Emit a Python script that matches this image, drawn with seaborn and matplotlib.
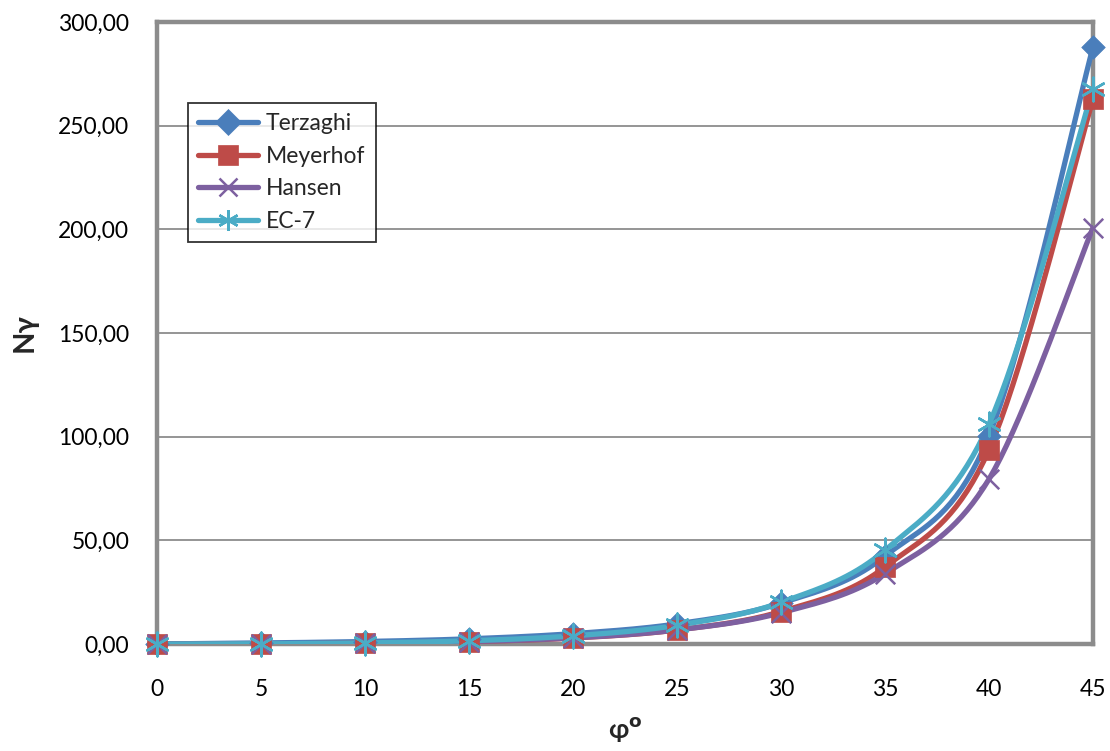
import matplotlib
matplotlib.use("Agg")
import matplotlib.pyplot as plt
import matplotlib.ticker as mticker
from matplotlib.lines import Line2D
import numpy as np
import pandas as pd
import seaborn as sns

# data
phi = [0, 5, 10, 15, 20, 25, 30, 35, 40, 45]
terzaghi = [0.0, 0.5, 1.2, 2.5, 5.0, 9.7, 19.7, 42.4, 100.4, 287.9]
meyerhof = [0.0, 0.07, 0.37, 1.13, 2.87, 6.77, 15.67, 37.15, 93.69, 262.74]
hansen = [0.0, 0.07, 0.39, 1.18, 2.95, 6.76, 15.07, 33.92, 79.54, 200.81]
ec7 = [0.0, 0.1, 0.52, 1.58, 3.93, 9.01, 20.09, 45.23, 106.05, 267.75]

names = ["Terzaghi", "Meyerhof", "Hansen", "EC-7"]
colors = ["#4a7ebb", "#be4b48", "#7d60a0", "#4bacc6"]
markers = ["D", "s", "x", (6, 2, 0)]
msizes = [12, 15, 14, 17]
series = [terzaghi, meyerhof, hansen, ec7]


def smooth(x, y, n=20):
    # Excel-style smoothed line (bezier between points)
    p = np.column_stack([np.asarray(x, float), np.asarray(y, float)])
    pts = [p[0]]
    for i in range(len(p) - 1):
        p0 = p[i - 1] if i > 0 else p[i]
        p3 = p[i + 2] if i + 2 < len(p) else p[i + 1]
        c1 = p[i] + (p[i + 1] - p0) / 6
        c2 = p[i + 1] - (p3 - p[i]) / 6
        t = np.linspace(0, 1, n)[1:, None]
        seg = ((1 - t) ** 3 * p[i] + 3 * (1 - t) ** 2 * t * c1
               + 3 * (1 - t) * t ** 2 * c2 + t ** 3 * p[i + 1])
        pts.extend(seg)
    pts = np.array(pts)
    return pts[:, 0], pts[:, 1]


sns.set_style("white")
plt.rcParams['font.family'] = ['Lato', 'DejaVu Sans']

fig = plt.figure(figsize=(11.1, 7.51), dpi=100)
ax = fig.add_axes([157 / 1110, 1 - 644 / 751, (1093 - 157) / 1110, (644 - 22) / 751])

for name, vals, col, mk, ms in zip(names, series, colors, markers, msizes):
    sx, sy = smooth(phi, vals)
    df = pd.DataFrame({"phi": sx, "N": sy})
    sns.lineplot(data=df, x="phi", y="N", ax=ax, color=col, lw=3.8,
                 sort=False, estimator=None, legend=False, zorder=3)
    pts = pd.DataFrame({"phi": phi, "N": vals})
    if mk in ("D", "s"):
        sns.scatterplot(data=pts, x="phi", y="N", ax=ax, color=col, marker=mk,
                        s=ms ** 2, edgecolor=col, linewidth=0.5, zorder=4, legend=False)
    else:
        sns.scatterplot(data=pts, x="phi", y="N", ax=ax, color=col, marker=mk,
                        s=ms ** 2, linewidth=1.8, zorder=4, legend=False)
    ax.collections[-1].set_clip_on(False)

ax.set_xlim(0, 45)
ax.set_ylim(0, 300)
ax.set_xticks(phi)
ax.set_yticks(np.arange(0, 301, 50))
ax.yaxis.set_major_formatter(mticker.FuncFormatter(lambda v, p: f"{v:.2f}".replace(".", ",")))
ax.grid(axis="y", color="#8c8c8c", lw=1.3)
ax.set_axisbelow(True)
for s in ax.spines.values():
    s.set_color("#8c8c8c")
    s.set_linewidth(3.2)
ax.tick_params(axis="both", labelsize=16.5, colors="#8c8c8c", labelcolor="black",
               length=6, width=1.5, direction="out")
ax.tick_params(axis="y", pad=14)
ax.tick_params(axis="x", pad=19)

ax.set_xlabel("φ$^{\\mathbf{o}}$", fontsize=19, fontweight="bold", labelpad=11)
ax.set_ylabel("Nγ", fontsize=21, fontweight="bold", labelpad=15)

handles = [Line2D([], [], color=c, lw=3.8, marker=m, markersize=ms,
                  markeredgewidth=1.8 if m not in ("D", "s") else 0.5)
           for c, m, ms in zip(colors, markers, [13, 14, 13, 15])]
leg = ax.legend(handles, names, loc="upper left", bbox_to_anchor=(0.033, 0.87),
                fontsize=16.5, frameon=True, fancybox=False, edgecolor="black",
                handlelength=2.6, borderpad=0.45, labelspacing=0.5, handletextpad=0.35,
                borderaxespad=0)
leg.get_frame().set_linewidth(1.3)

fig.savefig("out.png", dpi=100)
